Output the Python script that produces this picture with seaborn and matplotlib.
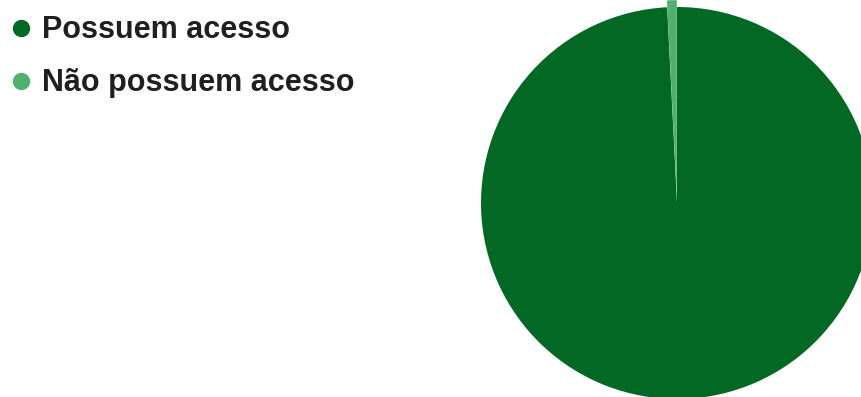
import matplotlib
matplotlib.use("Agg")
import matplotlib.pyplot as plt
import seaborn as sns
from matplotlib.lines import Line2D

sns.set_theme(style="white")
plt.rcParams['font.family'] = ['Liberation Sans', 'DejaVu Sans']

categories = ["Possuem acesso", "Não possuem acesso"]
values = [99.2, 0.8]
colors = ["#036823", "#52B06F"]

W, H = 861, 397
fig = plt.figure(figsize=(W / 100, H / 100), dpi=100)
fig.patch.set_facecolor("white")

cx, cy, r = 677, 203, 196
ax = fig.add_axes([(cx - r) / W, (H - cy - r) / H, 2 * r / W, 2 * r / H])
wedges, _ = ax.pie(values, colors=colors, startangle=90, counterclock=False,
                   explode=[0, 0.035], radius=1,
                   wedgeprops=dict(linewidth=0, antialiased=True))
for w in wedges:
    w.set_clip_on(False)
ax.set_xlim(-1, 1)
ax.set_ylim(-1, 1)
ax.set_aspect("equal")
ax.axis("off")

# legend (manual layout)
row_baselines = [37.8, 91.0]
for label, color, base in zip(categories, colors, row_baselines):
    fig.add_artist(Line2D([20.7 / W], [1 - (base - 10.0) / H], marker="o",
                          linestyle="none", markersize=12.5,
                          markerfacecolor=color, markeredgewidth=0,
                          transform=fig.transFigure))
    fig.text(42.5 / W, 1 - base / H, label, ha="left", va="baseline",
             fontsize=22, fontweight="bold", color="#1f1f1f")

fig.savefig("out.png", dpi=100, facecolor="white")
